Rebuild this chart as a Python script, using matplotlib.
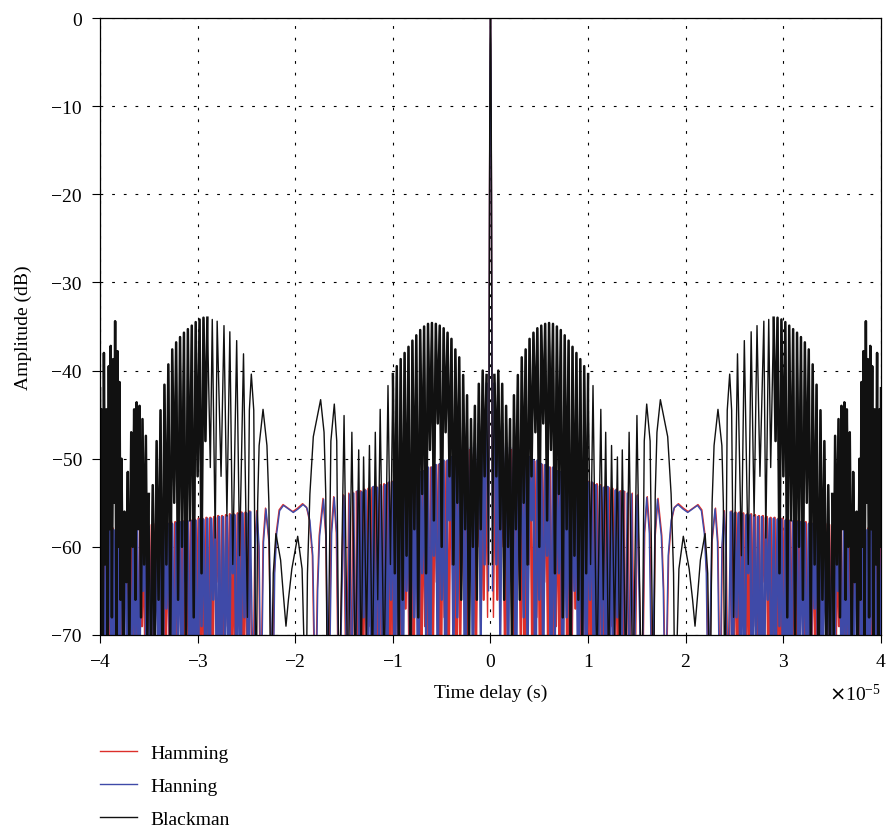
import numpy as np
import matplotlib.pyplot as plt
from matplotlib.lines import Line2D

# time delay in units of 1e-5 s, amplitude in dB
# only the positive half is listed, the three curves are symmetric about 0
STEP = 0.02   # spacing of the peak/null samples in the dense parts

# ---- Hamming (red) ----
ham_main_x = [0.0, 0.005, 0.010, 0.016, 0.030]
ham_main_db = [0.0, -6.0, -20.0, -48.0, -68.0]
ham_d1_x0 = 0.05
ham_d1_pk = [-50.5, -52.0, -50.5, -49.5, -49.0, -49.2, -49.5, -49.6, -49.9, -50.1,
             -50.3, -50.5, -50.7, -50.8, -51.0, -51.2, -51.4, -51.6, -51.7, -51.9,
             -52.0, -52.2, -52.3, -52.5, -52.6, -52.8, -52.9, -53.0, -53.2, -53.3,
             -53.4, -53.5, -53.7, -53.8]
ham_d1_nl = [-66, -60, -74, -58, -80, -65, -71, -80, -62, -76,
             -68, -80, -64, -72, -80, -69, -78, -61, -80, -74,
             -67, -80, -70, -77, -80, -66, -80, -73, -80, -69,
             -80, -76, -80]
ham_mid_x = [1.39, 1.41, 1.43, 1.452, 1.477, 1.506, 1.555, 1.58, 1.606, 1.633,
             1.66, 1.688, 1.716, 1.755, 1.775, 1.795, 1.825, 1.855, 1.885, 1.925,
             1.975, 2.025, 2.075, 2.125, 2.165, 2.195, 2.215, 2.235, 2.27, 2.305,
             2.33, 2.355, 2.375, 2.395, 2.415, 2.435]
ham_mid_db = [-78, -53.8, -76, -53.9, -80, -54.1, -80, -58.4, -54.3, -58.4,
              -80, -58.7, -54.5, -58.7, -65, -80, -61, -57, -55.5, -55.1,
              -55.6, -56.0, -55.6, -55.2, -55.8, -58.4, -63, -80, -59.4, -55.6,
              -59.4, -80, -60, -55.9, -60, -80]
ham_d2_x0 = 2.47
ham_d2_pk = [-56.0, -56.1, -56.1, -56.2, -56.3, -56.3, -56.4, -56.5, -56.5, -56.6,
             -56.7, -56.7, -56.8, -56.8, -56.9, -57.0, -57.0, -57.1, -57.1, -57.2,
             -57.2, -57.3, -57.3, -57.4, -57.4, -57.5, -57.5, -57.6, -57.6, -57.7,
             -57.7, -57.7, -57.8, -57.8, -57.9, -57.9, -57.9, -58.0, -58.0]
ham_d2_nl = [-72, -80, -66, -80, -75, -69, -80, -78, -64, -80,
             -71, -80, -76, -68, -80, -74, -80, -66, -79, -80,
             -70, -77, -80, -65, -80, -73, -80, -69, -80, -76,
             -80, -67, -80, -72, -80, -78, -64, -80, -75]

# ---- Hanning (blue) ----
han_main_x = [0.0, 0.005, 0.010, 0.015, 0.020]
han_main_db = [0.0, -6.0, -20.0, -45.0, -65.0]
han_d1_x0 = 0.04
han_d1_pk = [-41.5, -44.0, -46.0, -48.2, -48.7, -48.8, -49.2, -49.3, -49.7, -49.8,
             -50.2, -50.2, -50.6, -50.7, -51.0, -51.0, -51.4, -51.5, -51.8, -51.7,
             -52.1, -52.2, -52.4, -52.4, -52.7, -52.7, -53.0, -53.1, -53.3, -53.2,
             -53.5, -53.6, -53.8, -53.7]
han_d1_nl = [-62, -70, -58, -75, -64, -80, -60, -68, -72, -57,
             -80, -66, -74, -61, -80, -70, -63, -80, -68, -76,
             -65, -80, -72, -80, -66, -78, -80, -70, -80, -75,
             -80, -68, -80]
han_mid_x = [1.38, 1.40, 1.42, 1.445, 1.47, 1.50, 1.55, 1.575, 1.60, 1.627,
             1.655, 1.683, 1.71, 1.75, 1.77, 1.79, 1.82, 1.85, 1.88, 1.92,
             1.97, 2.02, 2.07, 2.12, 2.16, 2.19, 2.21, 2.23, 2.265, 2.30,
             2.325, 2.35, 2.37, 2.39, 2.41, 2.425]
han_mid_db = [-75, -53.9, -78, -54.0, -80, -54.2, -80, -58.5, -54.4, -58.5,
              -80, -58.8, -54.6, -58.8, -65, -80, -61, -57, -55.6, -55.2,
              -55.7, -56.1, -55.7, -55.3, -55.9, -58.5, -63, -80, -59.5, -55.7,
              -59.5, -80, -60, -56.0, -60, -80]
han_d2_x0 = 2.46
han_d2_pk = [-56.1, -56.2, -56.2, -56.3, -56.4, -56.4, -56.5, -56.6, -56.6, -56.7,
             -56.8, -56.8, -56.9, -56.9, -57.0, -57.1, -57.1, -57.2, -57.2, -57.3,
             -57.4, -57.4, -57.5, -57.5, -57.6, -57.7, -57.7, -57.8, -57.8, -57.9,
             -57.9, -58.0, -58.0, -58.1, -58.1, -58.1, -58.2, -58.2, -58.3]
han_d2_nl = [-80, -68, -75, -80, -63, -80, -72, -78, -80, -66,
             -80, -74, -69, -80, -77, -80, -64, -80, -71, -80,
             -75, -67, -80, -80, -70, -78, -80, -65, -80, -73,
             -80, -79, -68, -80, -76, -80, -70, -80, -74]

# ---- Blackman (black) ----
bla_main_x = [0.0, 0.004, 0.008, 0.012, 0.016, 0.020]
bla_main_db = [0.0, -3.0, -12.0, -28.0, -48.0, -62.0]
bla_d1_x0 = 0.04
bla_d1_pk = [-40.5, -40.0, -41.5, -44.0, -45.5, -42.8, -40.5, -38.5, -37.6, -36.4,
             -35.7, -35.2, -34.9, -34.7, -34.6, -34.7, -35.0, -35.4, -36.0, -36.6,
             -37.3, -38.0, -38.7, -39.5, -40.4]
bla_d1_nl = [-52, -58, -66, -60, -72, -58, -66, -55, -62, -52,
             -47, -60, -46, -57, -49, -63, -54, -68, -58, -72,
             -61, -66, -70, -63]
bla_mid_x = [1.025, 1.05, 1.09, 1.13, 1.155, 1.18, 1.21, 1.24, 1.27, 1.30,
             1.325, 1.35, 1.385, 1.42, 1.46, 1.50, 1.55, 1.575, 1.60, 1.635,
             1.67, 1.6875, 1.705, 1.74, 1.815, 1.85, 1.875, 1.89, 1.93, 1.975,
             2.035, 2.07, 2.095, 2.125, 2.15, 2.198, 2.225, 2.25, 2.27, 2.29,
             2.33, 2.37, 2.385, 2.40, 2.425, 2.45, 2.47, 2.49, 2.53, 2.57,
             2.60, 2.64, 2.67, 2.70, 2.73, 2.76, 2.80, 2.82, 2.85, 2.87]
bla_mid_db = [-62, -41.7, -75, -44.4, -66, -47.0, -75, -48.5, -70, -49.8,
              -75, -49.0, -75, -47.0, -78, -45.1, -80, -48, -43.8, -48,
              -80, -54, -47, -43.3, -47.5, -54, -63, -80, -62.5, -58.8,
              -62.5, -66, -69, -65, -61.5, -58.5, -63, -80, -55, -48.5,
              -44.4, -48.5, -55, -80, -44.5, -40.4, -44.5, -68, -38.1, -61,
              -36.6, -62, -35.6, -56.5, -34.9, -52, -34.4, -59, -34.2, -51]
bla_d2_x0 = 2.90
bla_d2_pk = [-34.0, -34.0, -34.2, -34.5, -34.9, -35.3, -35.7, -36.2, -36.8, -37.6,
             -39.3, -41.6, -44.5, -48.0, -53.0]
bla_d2_nl = [-48, -63, -52, -68, -57, -72, -60, -66, -55, -70,
             -62, -75, -66, -72, -75]
bla_end_x = [3.50, 3.515, 3.53, 3.548, 3.565, 3.58, 3.595, 3.61, 3.625, 3.637,
             3.65, 3.665, 3.68, 3.70, 3.715, 3.73, 3.75, 3.76, 3.78, 3.79,
             3.80, 3.81, 3.82, 3.832, 3.845, 3.855, 3.865, 3.878, 3.89, 3.90,
             3.91, 3.922, 3.935, 3.948, 3.96, 3.972, 3.985, 3.995, 4.0]
bla_end_db = [-54, -70, -47.4, -62, -45.5, -68, -44, -58, -43.6, -66,
              -44.4, -60, -47, -72, -51.5, -64, -56, -75, -50, -66,
              -41.3, -60, -37.8, -70, -34.4, -55, -38.7, -68, -37.2, -58,
              -39.5, -72, -44.4, -62, -38, -75, -44.4, -60, -42]


def zigzag(x0, pk, nl):
    y = np.empty(len(pk) + len(nl))
    y[0::2] = pk
    y[1::2] = nl
    return x0 + STEP * np.arange(len(y)), y


def mirror(x, y):
    x = np.asarray(x, float)
    y = np.asarray(y, float)
    return np.concatenate([-x[:0:-1], x]), np.concatenate([y[:0:-1], y])


def curve(parts):
    xs = np.concatenate([np.asarray(p[0], float) for p in parts])
    ys = np.concatenate([np.asarray(p[1], float) for p in parts])
    return mirror(xs, ys)


def dense(parts):
    # the dense stretches drawn again, both sides, separated by nan
    xs, ys = [], []
    for px, py in parts:
        px = np.asarray(px, float)
        py = np.asarray(py, float)
        xs += [px, [np.nan], -px, [np.nan]]
        ys += [py, [np.nan], py, [np.nan]]
    return np.concatenate(xs), np.concatenate(ys)


ham_parts = [zigzag(ham_d1_x0, ham_d1_pk, ham_d1_nl), zigzag(ham_d2_x0, ham_d2_pk, ham_d2_nl)]
han_parts = [zigzag(han_d1_x0, han_d1_pk, han_d1_nl), zigzag(han_d2_x0, han_d2_pk, han_d2_nl)]
bla_parts = [zigzag(bla_d1_x0, bla_d1_pk, bla_d1_nl), zigzag(bla_d2_x0, bla_d2_pk, bla_d2_nl),
             (bla_end_x, bla_end_db)]

ham = curve([(ham_main_x, ham_main_db), ham_parts[0], (ham_mid_x, ham_mid_db), ham_parts[1]])
han = curve([(han_main_x, han_main_db), han_parts[0], (han_mid_x, han_mid_db), han_parts[1]])
bla = curve([(bla_main_x, bla_main_db), bla_parts[0], (bla_mid_x, bla_mid_db), bla_parts[1],
             bla_parts[2]])

red = '#dc2f2a'
blue = '#3f4aa8'
black = '#111111'

plt.rcParams['font.family'] = ['Liberation Serif', 'DejaVu Serif']
plt.rcParams['font.size'] = 14

fig = plt.figure(figsize=(8.88, 8.29), dpi=100)
ax = fig.add_axes([100 / 888, 1 - 636 / 829, 781 / 888, 617 / 829])

for (cx, cy), parts, col, w in [(ham, ham_parts, red, 1.7), (han, han_parts, blue, 1.7),
                                (bla, bla_parts, black, 1.8)]:
    ax.plot(cx * 1e-5, cy, color=col, lw=1.0)
    dx, dy = dense(parts)
    ax.plot(dx * 1e-5, dy, color=col, lw=w)

ax.set_xlim(-4e-5, 4e-5)
ax.set_ylim(-70, 0)
ax.set_xticks(np.arange(-4, 5) * 1e-5)
ax.set_yticks(np.arange(-70, 1, 10))
ax.ticklabel_format(axis='x', style='sci', scilimits=(0, 0), useMathText=True)
ax.xaxis.OFFSETTEXTPAD = 9
ax.grid(True, color='black', lw=0.8, linestyle=(0, (2.5, 8)))
ax.tick_params(direction='out', length=6, width=0.8, labelsize=14)
ax.tick_params(axis='x', pad=7)
ax.tick_params(axis='y', pad=7)
for s in ax.spines.values():
    s.set_linewidth(0.9)
ax.set_xlabel('Time delay (s)', fontsize=14, labelpad=10)
ax.set_ylabel('Amplitude (dB)', fontsize=14, labelpad=14)

handles = [Line2D([], [], color=red, lw=1.0),
           Line2D([], [], color=blue, lw=1.0),
           Line2D([], [], color=black, lw=1.0)]
fig.legend(handles, ['Hamming', 'Hanning', 'Blackman'], loc='upper left',
           bbox_to_anchor=(100 / 888, 1 - 745 / 829), frameon=False,
           fontsize=14, handlelength=1.9, handletextpad=0.7,
           labelspacing=0.8, borderpad=0, borderaxespad=0)

fig.savefig('out.png', dpi=100)
